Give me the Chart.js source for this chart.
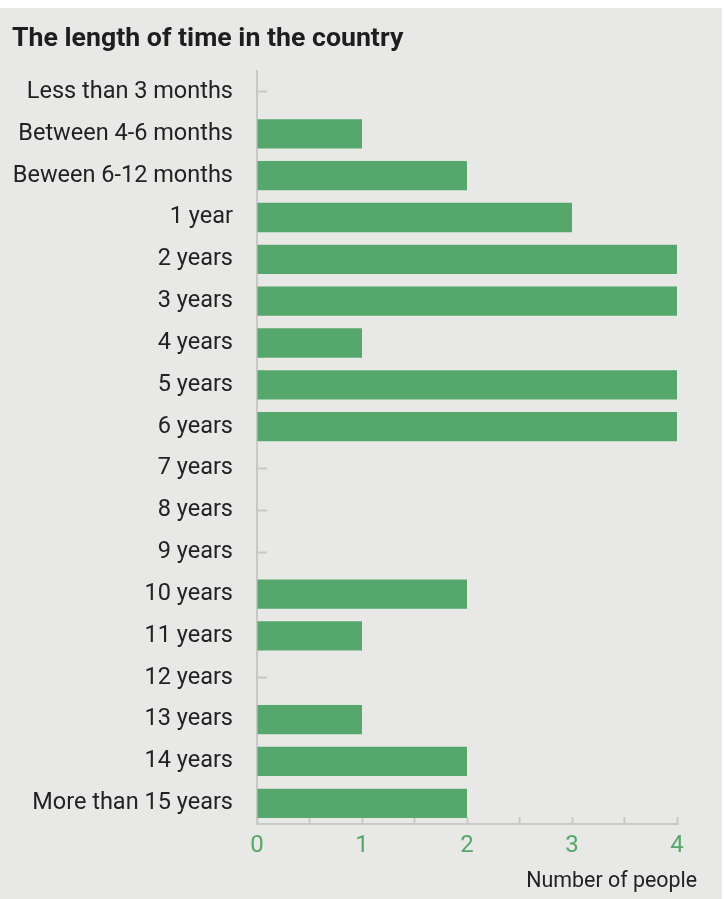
<!DOCTYPE html>
<html lang="en">
<head>
    <meta charset="UTF-8">
    <title>The length of time in the country</title>
    <script src="https://cdn.jsdelivr.net/npm/chart.js"></script>
    <style>
        body { margin: 0; background: #ffffff; }
        #wrap { position: absolute; top: 8px; left: 0; width: 722px; height: 891px; background: #e8e9e7; }
    </style>
</head>
<body>
    <div id="wrap">
        <canvas id="myChart" width="722" height="891"></canvas>
    </div>

    <script>
        const categories = [
            "Less than 3 months", "Between 4-6 months", "Beween 6-12 months", "1 year",
            "2 years", "3 years", "4 years", "5 years", "6 years", "7 years", "8 years",
            "9 years", "10 years", "11 years", "12 years", "13 years", "14 years",
            "More than 15 years"
        ];
        const people = [0, 1, 2, 3, 4, 4, 1, 4, 4, 0, 0, 0, 2, 1, 0, 1, 2, 2];
        const xTickLabels = [0, 1, 2, 3, 4];

        const green = '#56a76b';
        const axisGray = '#c8c8c6';
        const textDark = '#222222';

        // x axis title sits a bit right of the plot, so draw it by hand
        const xTitlePlugin = {
            id: 'xTitle',
            afterDraw(chart) {
                const ctx = chart.ctx;
                ctx.save();
                ctx.font = '21.4px Roboto';
                ctx.fillStyle = textDark;
                ctx.textAlign = 'right';
                ctx.textBaseline = 'middle';
                ctx.fillText('Number of people', chart.chartArea.right + 20, 874);
                ctx.restore();
            }
        };

        const ctx = document.getElementById('myChart').getContext('2d');
        new Chart(ctx, {
            type: 'bar',
            data: {
                labels: categories,
                datasets: [{
                    data: people,
                    backgroundColor: green,
                    borderWidth: 0,
                    barPercentage: 0.7,
                    categoryPercentage: 1
                }]
            },
            options: {
                indexAxis: 'y',
                responsive: false,
                animation: false,
                layout: { padding: { left: 12, right: 45, top: 0, bottom: 25 } },
                plugins: {
                    legend: { display: false },
                    tooltip: { enabled: false },
                    title: {
                        display: true,
                        text: 'The length of time in the country',
                        align: 'start',
                        color: '#1e1e1e',
                        font: { family: 'Roboto', size: 26.7, weight: 'bold' },
                        padding: { top: 15, bottom: 16 }
                    }
                },
                scales: {
                    x: {
                        min: 0,
                        max: 4,
                        border: { color: axisGray, width: 2 },
                        grid: { drawOnChartArea: false, tickLength: -7, tickColor: axisGray, tickWidth: 2 },
                        ticks: {
                            stepSize: 0.5,
                            autoSkip: false,
                            maxRotation: 0,
                            padding: 14,
                            color: green,
                            font: { family: 'Roboto', size: 24 },
                            callback: v => xTickLabels.includes(v) ? String(v) : ''
                        }
                    },
                    y: {
                        border: { color: axisGray, width: 2 },
                        grid: { offset: false, drawOnChartArea: false, tickLength: -10, tickColor: axisGray, tickWidth: 2 },
                        ticks: {
                            padding: 34,
                            autoSkip: false,
                            color: textDark,
                            font: { family: 'Roboto', size: 23.5 }
                        },
                        afterFit(scale) {
                            scale.width = 245;
                        }
                    }
                }
            },
            plugins: [xTitlePlugin]
        });
    </script>
</body>
</html>
